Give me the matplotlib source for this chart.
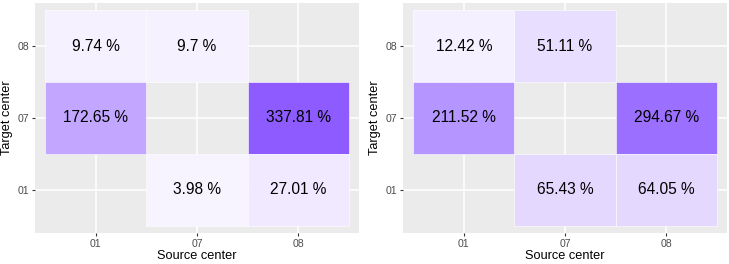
import matplotlib
matplotlib.use("Agg")
import matplotlib.pyplot as plt
from matplotlib.colors import LinearSegmentedColormap, Normalize

plt.rcParams["font.family"] = ["Liberation Sans", "DejaVu Sans"]

# Centers (discrete levels)
levels = ["01", "07", "08"]

# Tiles: source center, target center, percentage
source = ["01", "07", "01", "08", "07", "08"]
target = ["08", "08", "07", "07", "01", "01"]
values_left = [9.74, 9.7, 172.65, 337.81, 3.98, 27.01]
values_right = [12.42, 51.11, 211.52, 294.67, 65.43, 64.05]

cmap = LinearSegmentedColormap.from_list("purp", ["#F8F5FF", "#7A3FFF"])
norm = Normalize(0, 400)

fig = plt.figure(figsize=(7.29, 2.64), dpi=100)
W, H = 729, 264
boxes = [(35, 359), (403, 727)]
top, bottom = 3, 233


def draw_panel(ax, vals):
    ax.set_facecolor("#EBEBEB")
    xs = [levels.index(s) + 1 for s in source]
    ys = [levels.index(t) + 1 for t in target]
    # grid under the tiles
    for p in range(1, 4):
        ax.axvline(p, color="white", lw=1.1, zorder=0)
        ax.axhline(p, color="white", lw=1.1, zorder=0)
    colors = [cmap(norm(v)) for v in vals]
    ax.bar(xs, 1.0, width=1.0, bottom=[y - 0.5 for y in ys], color=colors,
           edgecolor="white", linewidth=0.4, zorder=1)
    for x, y, v in zip(xs, ys, vals):
        ax.text(x, y, f"{v} %", ha="center", va="center", fontsize=11.2,
                color="black", zorder=2)
    ax.set_xlim(0.4, 3.6)
    ax.set_ylim(0.4, 3.6)
    ax.set_xticks([1, 2, 3])
    ax.set_xticklabels(levels)
    ax.set_yticks([1, 2, 3])
    ax.set_yticklabels(levels)
    ax.tick_params(length=2.5, width=0.8, color="#333333", labelcolor="#4D4D4D",
                   labelsize=7.6, pad=2)
    for s in ax.spines.values():
        s.set_visible(False)
    ax.set_xlabel("Source center", fontsize=9.2)
    ax.set_ylabel("Target center", fontsize=9.2)
    ax.yaxis.set_label_coords(-0.068, 0.5)
    ax.xaxis.set_label_coords(0.5, -0.072)


for (x0, x1), vals in zip(boxes, [values_left, values_right]):
    ax = fig.add_axes([x0 / W, 1 - bottom / H, (x1 - x0) / W, (bottom - top) / H])
    draw_panel(ax, vals)

fig.savefig("out.png", dpi=100, facecolor="white")
